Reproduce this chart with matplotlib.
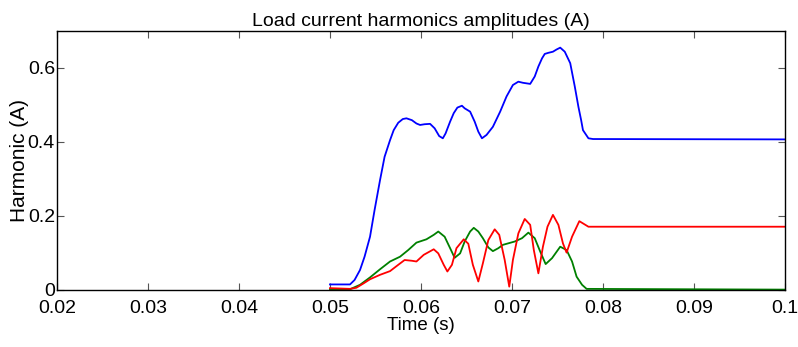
import numpy as np
import matplotlib.pyplot as plt
from matplotlib.ticker import FuncFormatter

plt.rcParams['font.family'] = ['Liberation Sans', 'DejaVu Sans']

# fundamental (blue)
t_blue = [0.0500, 0.0522, 0.0527, 0.0533, 0.0538, 0.0544, 0.0549, 0.0555, 0.0560,
          0.0566, 0.0570, 0.0575, 0.0580, 0.0584, 0.0590, 0.0595, 0.0599, 0.0604,
          0.0610, 0.0615, 0.0620, 0.0624, 0.0627, 0.0632, 0.0636, 0.0640, 0.0645,
          0.0648, 0.0654, 0.0659, 0.0663, 0.0667, 0.0672, 0.0679, 0.0687, 0.0694,
          0.0701, 0.0707, 0.0712, 0.0720, 0.0725, 0.0729, 0.0733, 0.0736, 0.0740,
          0.0745, 0.0749, 0.0753, 0.0758, 0.0764, 0.0769, 0.0773, 0.0776, 0.0778,
          0.0784, 0.0789, 0.1000]
v_blue = [0.015, 0.015, 0.027, 0.054, 0.090, 0.144, 0.216, 0.297, 0.360,
          0.405, 0.432, 0.452, 0.462, 0.464, 0.459, 0.450, 0.446, 0.448,
          0.449, 0.437, 0.416, 0.410, 0.423, 0.455, 0.478, 0.493, 0.498,
          0.491, 0.482, 0.455, 0.428, 0.410, 0.419, 0.441, 0.482, 0.523,
          0.554, 0.563, 0.560, 0.557, 0.577, 0.604, 0.626, 0.638, 0.641,
          0.644, 0.650, 0.655, 0.644, 0.613, 0.550, 0.495, 0.459, 0.432,
          0.410, 0.408, 0.407]

# 3rd harmonic (green)
t_green = [0.0500, 0.0522, 0.0533, 0.0544, 0.0555, 0.0566, 0.0577, 0.0586, 0.0595,
           0.0606, 0.0614, 0.0619, 0.0626, 0.0632, 0.0637, 0.0643, 0.0648, 0.0654,
           0.0658, 0.0663, 0.0668, 0.0674, 0.0679, 0.0685, 0.0690, 0.0703, 0.0711,
           0.0718, 0.0725, 0.0731, 0.0737, 0.0744, 0.0753, 0.0760, 0.0766, 0.0771,
           0.0777, 0.0782, 0.1000]
v_green = [0.002, 0.002, 0.014, 0.034, 0.056, 0.077, 0.090, 0.108, 0.128,
           0.137, 0.149, 0.158, 0.144, 0.113, 0.087, 0.099, 0.131, 0.158,
           0.168, 0.158, 0.140, 0.115, 0.105, 0.113, 0.122, 0.131, 0.140,
           0.155, 0.140, 0.104, 0.070, 0.086, 0.117, 0.108, 0.077, 0.036,
           0.014, 0.003, 0.001]

# 5th harmonic (red)
t_red = [0.0500, 0.0522, 0.0529, 0.0537, 0.0544, 0.0555, 0.0566, 0.0575, 0.0582,
         0.0590, 0.0595, 0.0603, 0.0614, 0.0619, 0.0625, 0.0629, 0.0634, 0.0639,
         0.0647, 0.0652, 0.0657, 0.0663, 0.0668, 0.0674, 0.0681, 0.0686, 0.0692,
         0.0697, 0.0701, 0.0707, 0.0714, 0.0720, 0.0724, 0.0729, 0.0734, 0.0739,
         0.0745, 0.0751, 0.0756, 0.0760, 0.0766, 0.0774, 0.0778, 0.0784, 0.1000]
v_red = [0.005, 0.003, 0.006, 0.018, 0.029, 0.041, 0.051, 0.068, 0.081,
         0.079, 0.077, 0.095, 0.110, 0.099, 0.068, 0.050, 0.068, 0.113,
         0.137, 0.125, 0.068, 0.023, 0.072, 0.135, 0.164, 0.149, 0.081,
         0.009, 0.081, 0.153, 0.192, 0.176, 0.108, 0.045, 0.117, 0.171,
         0.203, 0.176, 0.126, 0.101, 0.144, 0.186, 0.180, 0.171, 0.171]

xticks = [0.02, 0.03, 0.04, 0.05, 0.06, 0.07, 0.08, 0.09, 0.1]
yticks = [0, 0.2, 0.4, 0.6]

fig = plt.figure(figsize=(7.98, 3.47), dpi=100)
ax = fig.add_axes([0.0714, 0.1643, 0.9123, 0.7464])

ax.plot(t_blue, v_blue, color=(0, 0, 1), lw=1.3)
ax.plot(t_green, v_green, color=(0, 0.5, 0), lw=1.3)
ax.plot(t_red, v_red, color=(1, 0, 0), lw=1.3)

ax.set_xlim(0.02, 0.1)
ax.set_ylim(0, 0.7)
ax.set_xticks(xticks)
ax.set_yticks(yticks)
fmt = FuncFormatter(lambda v, p: '%g' % v)
ax.xaxis.set_major_formatter(fmt)
ax.yaxis.set_major_formatter(fmt)
ax.tick_params(direction='in', top=True, right=True, length=5, width=0.8,
               color='#555555', labelsize=14)
ax.tick_params(axis='x', pad=7)
ax.tick_params(axis='y', pad=1.5)
for s in ax.spines.values():
    s.set_linewidth(1.0)

ax.set_title('Load current harmonics amplitudes (A)', fontsize=14, pad=3.5)
ax.set_xlabel('Time (s)', fontsize=13.5, labelpad=0)
ax.set_ylabel('Harmonic (A)', fontsize=15, labelpad=-1)

plt.savefig('out.png', dpi=100)
